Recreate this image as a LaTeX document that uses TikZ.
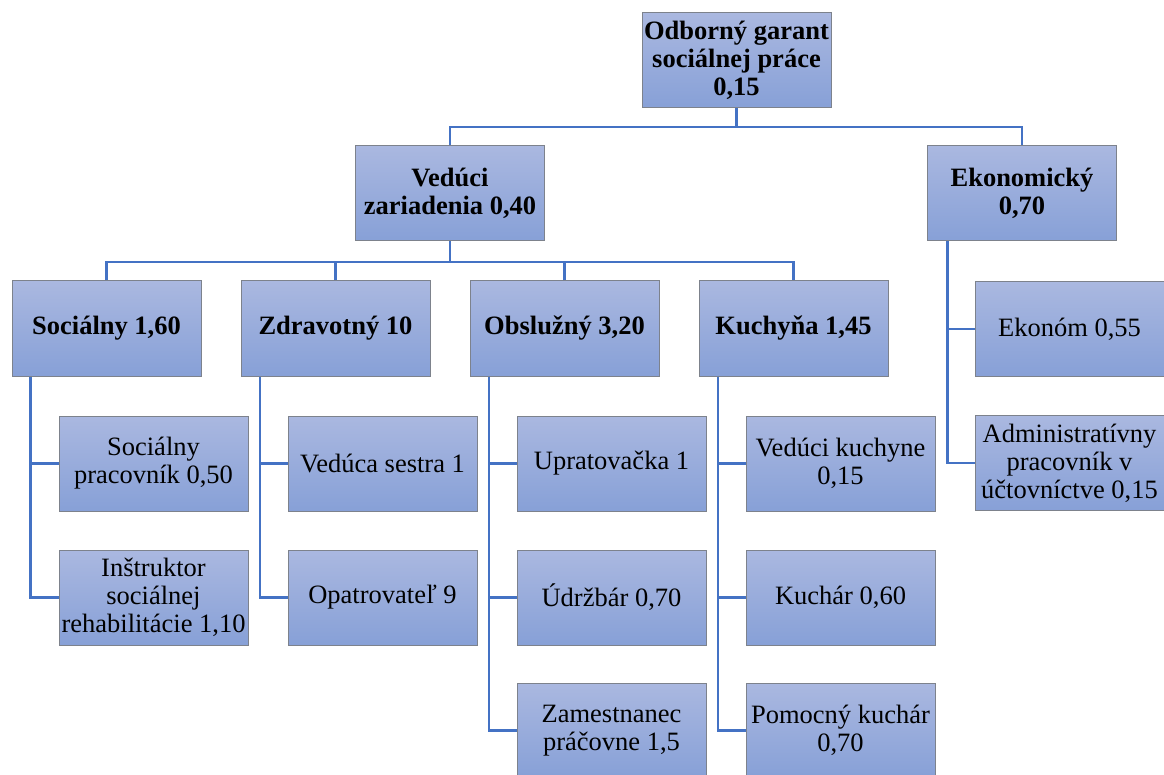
\documentclass[tikz,border=0pt]{standalone}
\usepackage{fontspec}
\setmainfont{Liberation Serif}
\begin{document}
\begin{tikzpicture}[x=1pt,y=-1pt,
  box/.style={draw={rgb,255:red,125;green,130;blue,140}, line width=1pt,
    top color={rgb,255:red,170;green,184;blue,224},
    bottom color={rgb,255:red,135;green,160;blue,215},
    shading angle=0,
    minimum width=189pt, minimum height=95pt, inner sep=0pt,
    align=center, font=\fontsize{26.5}{28}\selectfont},
  bbox/.style={box, font=\fontsize{26.5}{28}\selectfont\bfseries},
  conn/.style={draw={rgb,255:red,68;green,114;blue,196}, line width=2.6pt}]
\useasboundingbox[fill=white] (0,0) rectangle (1164,775);

% level 0 / 1
\node[bbox] (top) at (736.5,60.5) {Odborný garant\\sociálnej práce\\0,15};
\node[bbox] (ved) at (450,193.5) {Vedúci\\zariadenia 0,40};
\node[bbox] (eko) at (1022,193.5) {Ekonomický\\0,70};

% level 2
\node[bbox] (soc) at (106.5,328.5) {Sociálny 1,60};
\node[bbox] (zdr) at (335.5,328.5) {Zdravotný 10};
\node[bbox] (obs) at (564.5,328.5) {Obslužný 3,20};
\node[bbox] (kuc) at (793.5,328.5) {Kuchyňa 1,45};

% economy children
\node[box] (ekn) at (1069.5,329) {Ekonóm 0,55};
\node[box] (adm) at (1069.5,463) {Administratívny\\pracovník v\\účtovníctve 0,15};

% social children
\node[box] (soc1) at (153.5,463.5) {Sociálny\\pracovník 0,50};
\node[box] (soc2) at (153.5,597.5) {Inštruktor\\sociálnej\\rehabilitácie 1,10};

% health children
\node[box] (zdr1) at (382.5,463.5) {Vedúca sestra 1};
\node[box] (zdr2) at (382.5,597.5) {Opatrovateľ 9};

% service children
\node[box] (obs1) at (611.5,463.5) {Upratovačka 1};
\node[box] (obs2) at (611.5,597.5) {Údržbár 0,70};
\node[box] (obs3) at (611.5,730.5) {Zamestnanec\\práčovne 1,5};

% kitchen children
\node[box] (kuc1) at (840.5,463.5) {Vedúci kuchyne\\0,15};
\node[box] (kuc2) at (840.5,597.5) {Kuchár 0,60};
\node[box] (kuc3) at (840.5,730.5) {Pomocný kuchár\\0,70};

% connectors level 0 -> 1
\coordinate (bar0) at (736.5,127);
\draw[conn] (top.south) -- (bar0);
\draw[conn] (ved.north) |- (bar0) -| (eko.north);

% level 1 -> 2
\coordinate (bar1) at (450,262);
\draw[conn] (ved.south) -- (bar1);
\draw[conn] (soc.north) |- (bar1) -| (kuc.north);
\draw[conn] (zdr.north) -- (zdr.north |- bar1);
\draw[conn] (obs.north) -- (obs.north |- bar1);

% children
\draw[conn] ([xshift=19pt]soc.south west) |- (soc1.west);
\draw[conn] ([xshift=19pt]soc.south west) |- (soc2.west);
\draw[conn] ([xshift=19.5pt]zdr.south west) |- (zdr1.west);
\draw[conn] ([xshift=19.5pt]zdr.south west) |- (zdr2.west);
\draw[conn] ([xshift=19.5pt]obs.south west) |- (obs1.west);
\draw[conn] ([xshift=19.5pt]obs.south west) |- (obs2.west);
\draw[conn] ([xshift=19.5pt]obs.south west) |- (obs3.west);
\draw[conn] ([xshift=19.5pt]kuc.south west) |- (kuc1.west);
\draw[conn] ([xshift=19.5pt]kuc.south west) |- (kuc2.west);
\draw[conn] ([xshift=19.5pt]kuc.south west) |- (kuc3.west);
\draw[conn] ([xshift=20.5pt]eko.south west) |- (ekn.west);
\draw[conn] ([xshift=20.5pt]eko.south west) |- (adm.west);
\end{tikzpicture}
\end{document}
